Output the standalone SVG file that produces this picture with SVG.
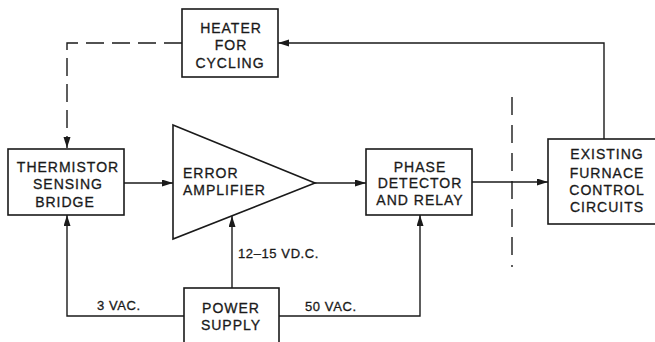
<svg xmlns="http://www.w3.org/2000/svg" width="655" height="342" viewBox="0 0 655 342">
<style>
.box{fill:#fff;stroke:#1a1a1a;stroke-width:1.6}
.ln{fill:none;stroke:#1a1a1a;stroke-width:1.4}
.dash{stroke-dasharray:18,8}
.t{font-family:"Liberation Sans",Arial,sans-serif;font-size:14px;letter-spacing:1px;fill:#1a1a1a;stroke:#1a1a1a;stroke-width:0.3;text-anchor:middle}
.lbl{font-size:13px;letter-spacing:0.6px;text-anchor:start}
</style>
<defs>
<marker id="ah" markerUnits="userSpaceOnUse" markerWidth="12" markerHeight="8" refX="11" refY="3.5" orient="auto">
<path d="M0,0 L11,3.5 L0,7 z" fill="#1a1a1a"/>
</marker>
</defs>
<rect width="655" height="342" fill="#fff"/>
<g id="connectors">
<path class="ln dash" d="M182,43 H67 V148" marker-end="url(#ah)"/>
<path class="ln" d="M124,183 H173" marker-end="url(#ah)"/>
<path class="ln" d="M315,183 H366" marker-end="url(#ah)"/>
<path class="ln" d="M472,182 H548" marker-end="url(#ah)"/>
<path class="ln" d="M604,139 V43 H278" marker-end="url(#ah)"/>
<path class="ln" d="M184,316 H67 V215" marker-end="url(#ah)"/>
<path class="ln" d="M279,316 H420 V215" marker-end="url(#ah)"/>
<path class="ln" d="M232,288 V216" marker-end="url(#ah)"/>
<path class="ln" d="M512,97 V267" stroke-dasharray="18,10"/>
</g>
<g id="heater">
<rect class="box" x="182" y="9" width="96" height="68"/>
<text class="t" x="231" y="33">HEATER</text>
<text class="t" x="231" y="50">FOR</text>
<text class="t" x="230" y="68">CYCLING</text>
</g>
<g id="thermistor">
<rect class="box" x="8" y="149" width="116" height="66"/>
<text class="t" x="68" y="172">THERMISTOR</text>
<text class="t" x="68" y="189">SENSING</text>
<text class="t" x="65" y="207">BRIDGE</text>
</g>
<g id="amplifier">
<polygon class="box" points="173,125 315,183 173,239"/>
<text class="t" x="183" y="178" style="text-anchor:start">ERROR</text>
<text class="t" x="183" y="195" style="text-anchor:start">AMPLIFIER</text>
</g>
<g id="phase">
<rect class="box" x="366" y="149" width="106" height="66"/>
<text class="t" x="420" y="172">PHASE</text>
<text class="t" x="420" y="188">DETECTOR</text>
<text class="t" x="420" y="205">AND RELAY</text>
</g>
<g id="existing">
<rect class="box" x="548" y="139" width="120" height="85"/>
<text class="t" x="607" y="159">EXISTING</text>
<text class="t" x="607" y="178">FURNACE</text>
<text class="t" x="607" y="195">CONTROL</text>
<text class="t" x="607" y="212">CIRCUITS</text>
</g>
<g id="power">
<rect class="box" x="184" y="288" width="95" height="60"/>
<text class="t" x="231" y="313">POWER</text>
<text class="t" x="231" y="330">SUPPLY</text>
</g>
<g id="labels">
<text class="t lbl" x="238" y="258">12–15 VD.C.</text>
<text class="t lbl" x="97" y="310">3 VAC.</text>
<text class="t lbl" x="305" y="311">50 VAC.</text>
</g>
</svg>
